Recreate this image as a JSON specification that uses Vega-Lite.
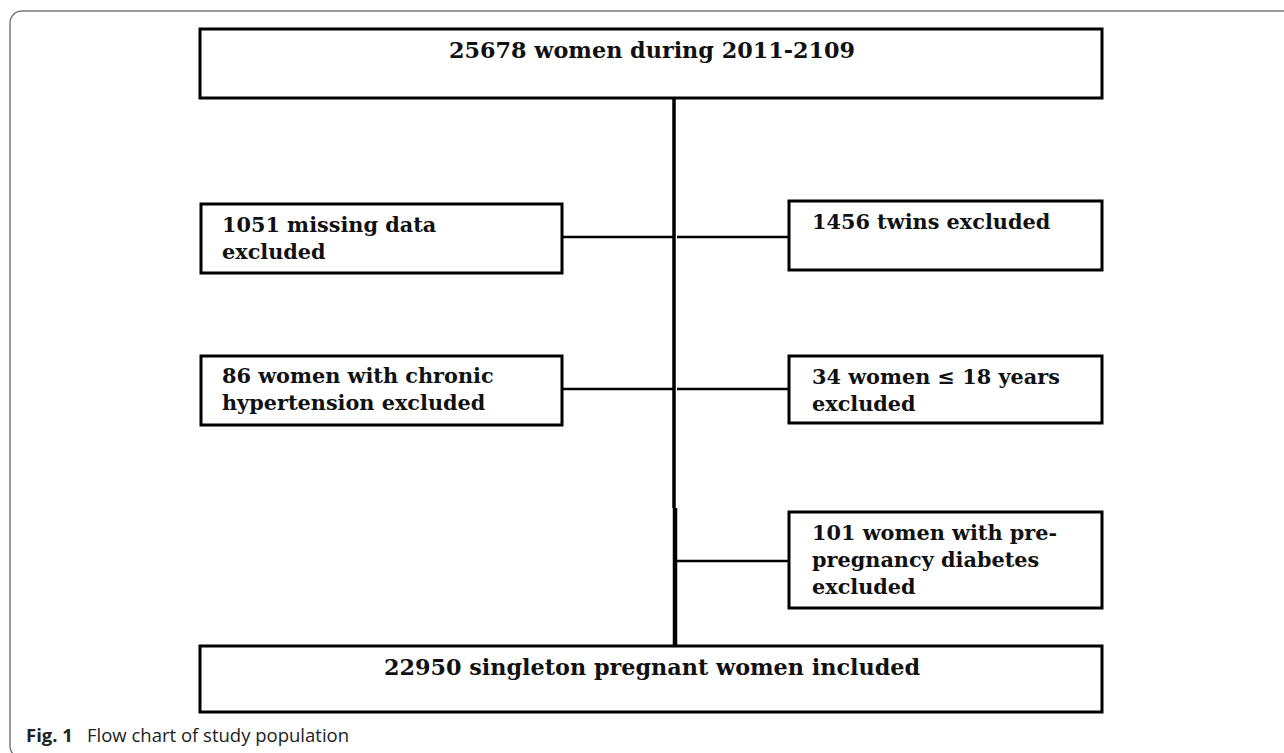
{
  "$schema": "https://vega.github.io/schema/vega-lite/v6.json",
  "width": 1284,
  "height": 753,
  "autosize": "none",
  "padding": 0,
  "background": "white",
  "config": {"view": {"stroke": null}},
  "datasets": {
    "frame": [{"x": 10, "x2": 1300, "y": 11, "y2": 758}],
    "boxes": [
      {"box": "start", "x": 200, "x2": 1102, "y": 29, "y2": 98},
      {"box": "missing", "x": 201, "x2": 562, "y": 204, "y2": 273},
      {"box": "twins", "x": 789, "x2": 1102, "y": 201, "y2": 270},
      {"box": "hypertension", "x": 201, "x2": 562, "y": 356, "y2": 425},
      {"box": "age", "x": 789, "x2": 1102, "y": 356, "y2": 423},
      {"box": "diabetes", "x": 789, "x2": 1102, "y": 512, "y2": 608},
      {"box": "final", "x": 200, "x2": 1102, "y": 646, "y2": 712}
    ],
    "lines": [
      {"kind": "branch", "x": 562, "x2": 673, "y": 237, "y2": 237},
      {"kind": "branch", "x": 677, "x2": 789, "y": 237, "y2": 237},
      {"kind": "branch", "x": 562, "x2": 673, "y": 389, "y2": 389},
      {"kind": "branch", "x": 677, "x2": 789, "y": 389, "y2": 389},
      {"kind": "branch", "x": 675, "x2": 789, "y": 561, "y2": 561},
      {"kind": "trunk", "x": 674, "x2": 674, "y": 98, "y2": 508},
      {"kind": "tail", "x": 675, "x2": 675, "y": 508, "y2": 646}
    ],
    "labels": [
      {"role": "center", "text": "25678 women during 2011-2109", "x": 652, "y": 51},
      {"role": "left", "text": "1051 missing data", "x": 222, "y": 226},
      {"role": "left", "text": "excluded", "x": 222, "y": 253},
      {"role": "left", "text": "1456 twins excluded", "x": 812, "y": 223},
      {"role": "left", "text": "86 women with chronic", "x": 222, "y": 377},
      {"role": "left", "text": "hypertension excluded", "x": 222, "y": 404},
      {"role": "left", "text": "34 women ≤ 18 years", "x": 812, "y": 378},
      {"role": "left", "text": "excluded", "x": 812, "y": 405},
      {"role": "left", "text": "101 women with pre-", "x": 812, "y": 534},
      {"role": "left", "text": "pregnancy diabetes", "x": 812, "y": 561},
      {"role": "left", "text": "excluded", "x": 812, "y": 588},
      {"role": "center", "text": "22950 singleton pregnant women included", "x": 652, "y": 668},
      {"role": "figbold", "text": "Fig. 1", "x": 26, "y": 736},
      {"role": "figtext", "text": "Flow chart of study population", "x": 87, "y": 736}
    ]
  },
  "layer": [
    {
      "data": {"name": "frame"},
      "mark": {"type": "rect", "fill": "white", "stroke": "#7a7a7a", "strokeWidth": 1.5, "cornerRadius": 12},
      "encoding": {
        "x": {"field": "x", "type": "quantitative", "scale": {"domain": [0, 1284], "nice": false, "zero": false}, "axis": null},
        "x2": {"field": "x2"},
        "y": {"field": "y", "type": "quantitative", "scale": {"domain": [0, 753], "nice": false, "zero": false, "reverse": true}, "axis": null},
        "y2": {"field": "y2"}
      }
    },
    {
      "data": {"name": "lines"},
      "mark": {"type": "rule", "color": "black"},
      "encoding": {
        "x": {"field": "x", "type": "quantitative"},
        "x2": {"field": "x2"},
        "y": {"field": "y", "type": "quantitative"},
        "y2": {"field": "y2"},
        "strokeWidth": {"field": "kind", "type": "nominal", "scale": {"domain": ["branch", "trunk", "tail"], "range": [2.5, 4.5, 3]}, "legend": null}
      }
    },
    {
      "data": {"name": "boxes"},
      "mark": {"type": "rect", "fill": "white", "stroke": "black", "strokeWidth": 3},
      "encoding": {
        "x": {"field": "x", "type": "quantitative"},
        "x2": {"field": "x2"},
        "y": {"field": "y", "type": "quantitative"},
        "y2": {"field": "y2"}
      }
    },
    {
      "data": {"name": "labels"},
      "transform": [{"filter": "datum.role === 'center'"}],
      "mark": {"type": "text", "align": "center", "baseline": "middle", "font": "DejaVu Serif", "fontWeight": "bold", "fontSize": 22.3, "color": "#111"},
      "encoding": {
        "x": {"field": "x", "type": "quantitative"},
        "y": {"field": "y", "type": "quantitative"},
        "text": {"field": "text"}
      }
    },
    {
      "data": {"name": "labels"},
      "transform": [{"filter": "datum.role === 'left'"}],
      "mark": {"type": "text", "align": "left", "baseline": "middle", "font": "DejaVu Serif", "fontWeight": "bold", "fontSize": 20.8, "color": "#111"},
      "encoding": {
        "x": {"field": "x", "type": "quantitative"},
        "y": {"field": "y", "type": "quantitative"},
        "text": {"field": "text"}
      }
    },
    {
      "data": {"name": "labels"},
      "transform": [{"filter": "datum.role === 'figbold'"}],
      "mark": {"type": "text", "align": "left", "baseline": "middle", "font": "Open Sans", "fontWeight": "bold", "fontSize": 18.5, "color": "#222"},
      "encoding": {
        "x": {"field": "x", "type": "quantitative"},
        "y": {"field": "y", "type": "quantitative"},
        "text": {"field": "text"}
      }
    },
    {
      "data": {"name": "labels"},
      "transform": [{"filter": "datum.role === 'figtext'"}],
      "mark": {"type": "text", "align": "left", "baseline": "middle", "font": "Open Sans", "fontSize": 18.5, "color": "#222"},
      "encoding": {
        "x": {"field": "x", "type": "quantitative"},
        "y": {"field": "y", "type": "quantitative"},
        "text": {"field": "text"}
      }
    }
  ]
}
